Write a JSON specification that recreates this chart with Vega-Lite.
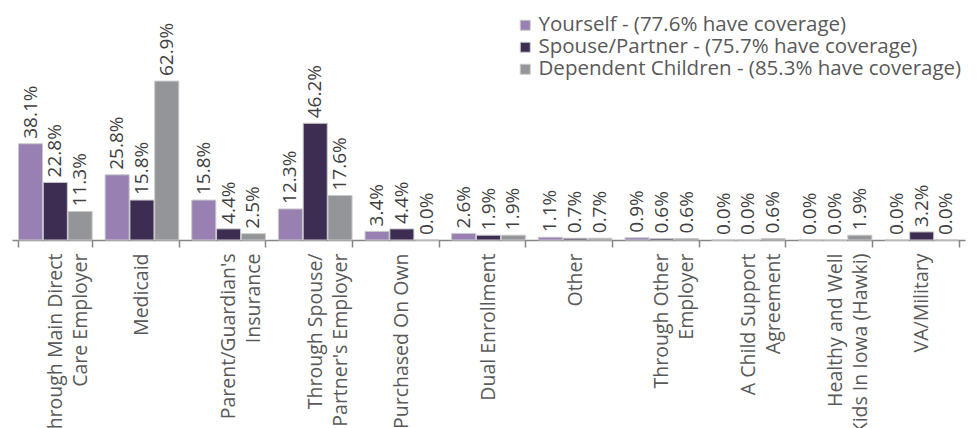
{
  "$schema": "https://vega.github.io/schema/vega-lite/v6.json",
  "width": 953,
  "height": 240,
  "autosize": {"type": "none"},
  "padding": {"left": 12, "top": 0, "right": 14, "bottom": 188},
  "background": "white",
  "config": {"view": {"stroke": null}, "font": "Open Sans"},
  "data": {"values": [
    {"cat": "Through Main Direct|Care Employer", "series": "Yourself - (77.6% have coverage)", "v": 0.381},
    {"cat": "Through Main Direct|Care Employer", "series": "Spouse/Partner - (75.7% have coverage)", "v": 0.228},
    {"cat": "Through Main Direct|Care Employer", "series": "Dependent Children - (85.3% have coverage)", "v": 0.113},
    {"cat": "Medicaid", "series": "Yourself - (77.6% have coverage)", "v": 0.258},
    {"cat": "Medicaid", "series": "Spouse/Partner - (75.7% have coverage)", "v": 0.158},
    {"cat": "Medicaid", "series": "Dependent Children - (85.3% have coverage)", "v": 0.629},
    {"cat": "Parent/Guardian's|Insurance", "series": "Yourself - (77.6% have coverage)", "v": 0.158},
    {"cat": "Parent/Guardian's|Insurance", "series": "Spouse/Partner - (75.7% have coverage)", "v": 0.044},
    {"cat": "Parent/Guardian's|Insurance", "series": "Dependent Children - (85.3% have coverage)", "v": 0.025},
    {"cat": "Through Spouse/|Partner's Employer", "series": "Yourself - (77.6% have coverage)", "v": 0.123},
    {"cat": "Through Spouse/|Partner's Employer", "series": "Spouse/Partner - (75.7% have coverage)", "v": 0.462},
    {"cat": "Through Spouse/|Partner's Employer", "series": "Dependent Children - (85.3% have coverage)", "v": 0.176},
    {"cat": "Purchased On Own", "series": "Yourself - (77.6% have coverage)", "v": 0.034},
    {"cat": "Purchased On Own", "series": "Spouse/Partner - (75.7% have coverage)", "v": 0.044},
    {"cat": "Purchased On Own", "series": "Dependent Children - (85.3% have coverage)", "v": 0.0},
    {"cat": "Dual Enrollment", "series": "Yourself - (77.6% have coverage)", "v": 0.026},
    {"cat": "Dual Enrollment", "series": "Spouse/Partner - (75.7% have coverage)", "v": 0.019},
    {"cat": "Dual Enrollment", "series": "Dependent Children - (85.3% have coverage)", "v": 0.019},
    {"cat": "Other", "series": "Yourself - (77.6% have coverage)", "v": 0.011},
    {"cat": "Other", "series": "Spouse/Partner - (75.7% have coverage)", "v": 0.007},
    {"cat": "Other", "series": "Dependent Children - (85.3% have coverage)", "v": 0.007},
    {"cat": "Through Other|Employer", "series": "Yourself - (77.6% have coverage)", "v": 0.009},
    {"cat": "Through Other|Employer", "series": "Spouse/Partner - (75.7% have coverage)", "v": 0.006},
    {"cat": "Through Other|Employer", "series": "Dependent Children - (85.3% have coverage)", "v": 0.006},
    {"cat": "A Child Support|Agreement", "series": "Yourself - (77.6% have coverage)", "v": 0.0},
    {"cat": "A Child Support|Agreement", "series": "Spouse/Partner - (75.7% have coverage)", "v": 0.0},
    {"cat": "A Child Support|Agreement", "series": "Dependent Children - (85.3% have coverage)", "v": 0.006},
    {"cat": "Healthy and Well|Kids In Iowa (Hawki)", "series": "Yourself - (77.6% have coverage)", "v": 0.0},
    {"cat": "Healthy and Well|Kids In Iowa (Hawki)", "series": "Spouse/Partner - (75.7% have coverage)", "v": 0.0},
    {"cat": "Healthy and Well|Kids In Iowa (Hawki)", "series": "Dependent Children - (85.3% have coverage)", "v": 0.019},
    {"cat": "VA/Military", "series": "Yourself - (77.6% have coverage)", "v": 0.0},
    {"cat": "VA/Military", "series": "Spouse/Partner - (75.7% have coverage)", "v": 0.032},
    {"cat": "VA/Military", "series": "Dependent Children - (85.3% have coverage)", "v": 0.0}
  ]},
  "encoding": {
    "x": {
      "field": "cat", "type": "nominal", "sort": null, "title": null,
      "scale": {"paddingInner": 0.15, "paddingOuter": 0.075},
      "axis": {
        "labelExpr": "split(datum.label, '|')",
        "labelAngle": -90, "labelAlign": "right", "labelBaseline": "middle",
        "labelFontSize": 19.5, "labelColor": "#595959", "labelLineHeight": 25,
        "labelPadding": 6, "labelLimit": 400,
        "tickBand": "extent", "tickSize": 7, "tickColor": "#868686", "tickWidth": 1.5,
        "domainColor": "#868686", "domainWidth": 1.5, "grid": false
      }
    },
    "xOffset": {
      "field": "series", "type": "nominal",
      "sort": ["Yourself - (77.6% have coverage)", "Spouse/Partner - (75.7% have coverage)", "Dependent Children - (85.3% have coverage)"],
      "scale": {"paddingInner": 0.03}
    },
    "y": {
      "field": "v", "type": "quantitative", "axis": null,
      "scale": {"domain": [0, 0.95], "nice": false}
    }
  },
  "layer": [
    {
      "mark": {"type": "bar", "stroke": "#C9C9C9", "strokeWidth": 1},
      "encoding": {
        "color": {
          "field": "series", "type": "nominal",
          "sort": ["Yourself - (77.6% have coverage)", "Spouse/Partner - (75.7% have coverage)", "Dependent Children - (85.3% have coverage)"],
          "scale": {"range": ["#9880B3", "#3E2D52", "#939598"]},
          "legend": {
            "title": null, "orient": "none", "legendX": 503, "legendY": 15,
            "symbolType": "square", "symbolSize": 100, "symbolStrokeColor": "#C9C9C9", "symbolStrokeWidth": 1,
            "labelFontSize": 20.5, "labelColor": "#595959", "labelLimit": 500, "rowPadding": 1, "labelOffset": 3
          }
        }
      }
    },
    {
      "mark": {"type": "text", "angle": 270, "align": "left", "baseline": "middle", "dx": 5, "fontSize": 19, "color": "#404040"},
      "encoding": {
        "text": {"field": "v", "type": "quantitative", "format": ".1%"}
      }
    }
  ]
}
